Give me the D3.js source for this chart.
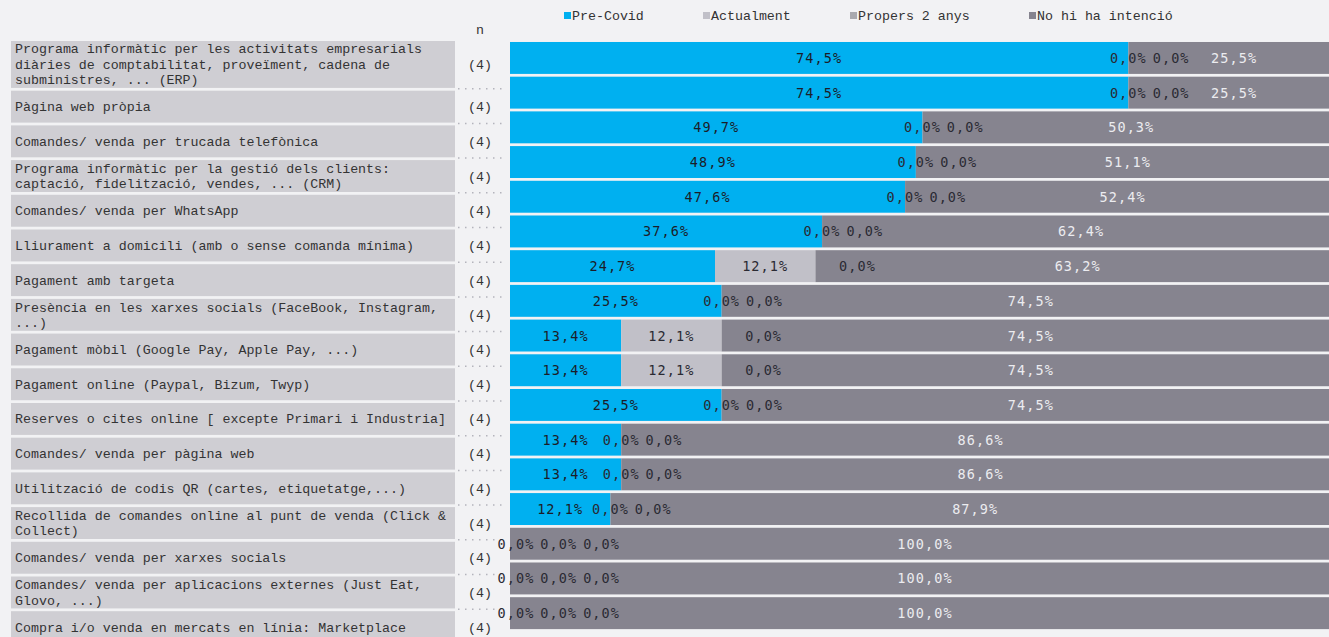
<!DOCTYPE html>
<html><head><meta charset="utf-8">
<script src="https://cdn.jsdelivr.net/npm/d3@7"></script>
<style>
html,body{margin:0;padding:0;background:#f2f2f4;overflow:hidden}
svg{display:block}
</style></head><body>
<svg id="chart" width="1329" height="637"></svg>
<script>
const categories = [
 "Programa informàtic per les activitats empresarials diàries de comptabilitat, proveïment, cadena de subministres, ... (ERP)",
 "Pàgina web pròpia",
 "Comandes/ venda per trucada telefònica",
 "Programa informàtic per la gestió dels clients: captació, fidelització, vendes, ... (CRM)",
 "Comandes/ venda per WhatsApp",
 "Lliurament a domicili (amb o sense comanda mínima)",
 "Pagament amb targeta",
 "Presència en les xarxes socials (FaceBook, Instagram, ...)",
 "Pagament mòbil (Google Pay, Apple Pay, ...)",
 "Pagament online (Paypal, Bizum, Twyp)",
 "Reserves o cites online [ excepte Primari i Industria]",
 "Comandes/ venda per pàgina web",
 "Utilització de codis QR (cartes, etiquetatge,...)",
 "Recollida de comandes online al punt de venda (Click & Collect)",
 "Comandes/ venda per xarxes socials",
 "Comandes/ venda per aplicacions externes (Just Eat, Glovo, ...)",
 "Compra i/o venda en mercats en línia: Marketplace"
];
const nValues = [4,4,4,4,4,4,4,4,4,4,4,4,4,4,4,4,4];
const seriesNames = ["Pre-Covid","Actualment","Propers 2 anys","No hi ha intenció"];
const preCovid   = [74.5,74.5,49.7,48.9,47.6,37.6,24.7,25.5,13.4,13.4,25.5,13.4,13.4,12.1,0,0,0];
const actualment = [0,0,0,0,0,0,12.1,0,12.1,12.1,0,0,0,0,0,0,0];
const propers    = [0,0,0,0,0,0,0,0,0,0,0,0,0,0,0,0,0];
const noIntencio = [25.5,25.5,50.3,51.1,52.4,62.4,63.2,74.5,74.5,74.5,74.5,86.6,86.6,87.9,100,100,100];

const colors = ["#00b0f0","#c1c0c8","#a9a9ae","#86848f"];
const textColors = ["#1c1c28","#2a2a33","#2a2a33","#ececf0"];
const series = [preCovid, actualment, propers, noIntencio];

const svg = d3.select("#chart");
const labelFont = "'Liberation Mono', 'DejaVu Sans Mono', monospace";
const valueFont = "'DejaVu Sans Mono', monospace";

const y = d3.scaleBand().domain(categories).range([40.6, 40.6 + 17*34.7]).paddingInner(0.08).paddingOuter(0.04);
const x = d3.scaleLinear().domain([0,100]).range([510, 1340]);

// legend
const legendX = [564, 703, 850, 1029];
const lg = svg.append("g");
seriesNames.forEach((s,i)=>{
  lg.append("rect").attr("x",legendX[i]).attr("y",12).attr("width",7).attr("height",7).attr("fill",colors[i]);
  lg.append("text").attr("x",legendX[i]+8).attr("y",19.5).attr("font-family",labelFont).attr("font-size",13.3)
    .attr("fill","#333").text(s);
});

// n header
svg.append("text").attr("x",480).attr("y",34).attr("text-anchor","middle").attr("font-family",labelFont)
  .attr("font-size",13.3).attr("fill","#333").text("n");

// label boxes
const shift = 14;
const lbl = svg.append("g");
categories.forEach((c,i)=>{
  const top = i===0 ? 41 : y(c)+shift;
  const bottom = y(c)+y.bandwidth()+shift;
  lbl.append("rect").attr("x",11).attr("y",top).attr("width",444).attr("height",bottom-top).attr("fill","#cfced3");
  const t = lbl.append("text").attr("font-family",labelFont).attr("font-size",13.3).attr("fill","#333");
  const words = c.split(" ");
  const lines = []; let cur = "";
  const tmp = lbl.append("text").attr("font-family",labelFont).attr("font-size",13.3);
  words.forEach(w=>{
    const test = cur ? cur+" "+w : w;
    tmp.text(test);
    if (tmp.node().getComputedTextLength() > 436 && cur) { lines.push(cur); cur = w; } else cur = test;
  });
  lines.push(cur); tmp.remove();
  const cy = (top+bottom)/2;
  const lh = 15.5;
  const y0 = cy - (lines.length-1)*lh/2 + 4.5;
  lines.forEach((l,k)=>{
    t.append("tspan").attr("x",15).attr("y",y0+k*lh).text(l);
  });
  lbl.append("text").attr("x",480).attr("y",cy+4.5).attr("text-anchor","middle").attr("font-family",labelFont)
    .attr("font-size",13.3).attr("fill","#333").text("("+nValues[i]+")");
  if (i>0) {
    lbl.append("line").attr("x1",458).attr("x2",502).attr("y1",y(c)+12).attr("y2",y(c)+12)
      .attr("stroke","#b4b4bc").attr("stroke-width",1.5).attr("stroke-dasharray","1.5,5.5");
  }
});

// bars
const stackData = categories.map((c,i)=>{
  let acc = 0;
  return series.map((s,k)=>{ const d = {cat:c, k, v:s[i], x0:acc, x1:acc+s[i]}; acc += s[i]; return d; });
});
const bars = svg.append("g");
stackData.forEach(row=>{
  row.forEach(d=>{
    if (d.v<=0) return;
    bars.append("rect").attr("x",x(d.x0)).attr("y",y(d.cat)).attr("width",x(d.x1)-x(d.x0)).attr("height",y.bandwidth())
      .attr("fill",colors[d.k]);
  });
});

// value labels with simple collision avoidance
const fmt = v => d3.format(".1f")(v).replace(".",",")+"%";
const zeroOffset = [6, 0, 42, 0];
const charW = 9.2;
const vl = svg.append("g");
stackData.forEach(row=>{
  let prevRight = -Infinity;
  row.forEach(d=>{
    const txt = fmt(d.v);
    const w = txt.length*charW - 1;
    let cx = d.v>0 ? (x(d.x0)+x(d.x1))/2 : x(d.x0)+zeroOffset[d.k];
    if (cx - w/2 < prevRight + 7) cx = prevRight + 7 + w/2;
    prevRight = cx + w/2;
    vl.append("text").attr("x",cx).attr("y",y(d.cat)+y.bandwidth()/2+5)
      .attr("text-anchor","middle").attr("font-family",valueFont).attr("font-size",13.5)
      .attr("letter-spacing",1.1)
      .attr("fill", d.v>0 ? textColors[d.k] : "#2a2a33").text(txt);
  });
});
</script>
</body></html>
